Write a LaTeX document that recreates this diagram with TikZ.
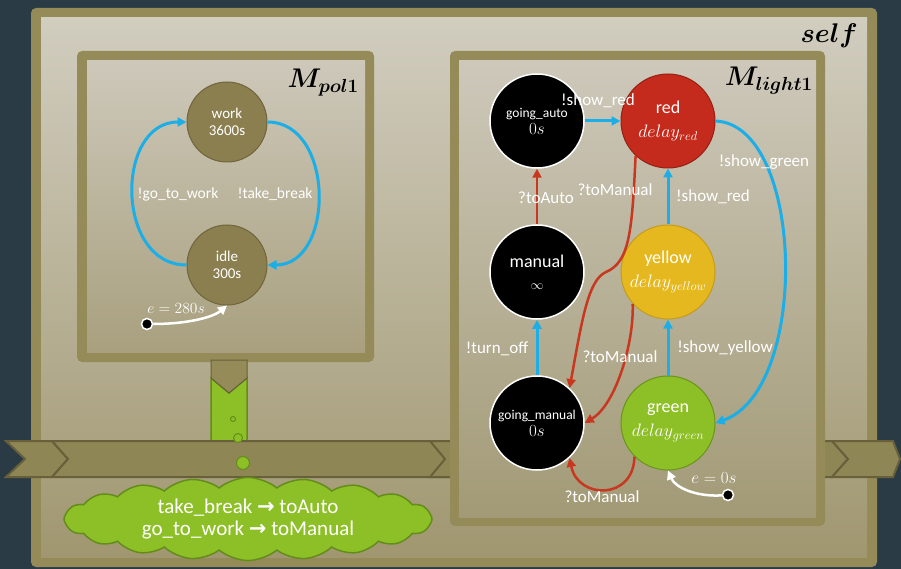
\RequirePackage{fix-cm}
\documentclass[tikz,border=0pt]{standalone}
\usepackage{bm}
\usepackage{fontspec}
\setmainfont{Carlito}
\newfontfamily\arrowfont{DejaVu Sans}
\usetikzlibrary{arrows.meta,shapes.symbols}
\definecolor{bgdark}{RGB}{43,59,70}
\definecolor{olivebd}{RGB}{149,139,88}
\definecolor{selftop}{RGB}{209,205,191}
\definecolor{selfbot}{RGB}{160,151,112}
\definecolor{boxtop}{RGB}{205,200,186}
\definecolor{polbot}{RGB}{168,160,126}
\definecolor{lightbot}{RGB}{162,154,118}
\definecolor{polfill}{RGB}{139,127,80}
\definecolor{polbd}{RGB}{112,101,60}
\definecolor{redlamp}{RGB}{196,43,28}
\definecolor{redlampbd}{RGB}{150,32,20}
\definecolor{yellowlamp}{RGB}{230,184,32}
\definecolor{yellowlampbd}{RGB}{196,156,24}
\definecolor{greenlamp}{RGB}{141,191,38}
\definecolor{greenlampbd}{RGB}{106,148,28}
\definecolor{arblue}{RGB}{28,174,230}
\definecolor{arred}{RGB}{200,56,32}
\definecolor{stripfill}{RGB}{143,134,86}
\definecolor{stripbd}{RGB}{104,96,58}
\definecolor{pipegreen}{RGB}{141,192,38}
\definecolor{pipebd}{RGB}{100,140,26}
\begin{document}
\begin{tikzpicture}[x=1pt,y=-1pt,>={Triangle[length=9pt,width=9pt]},
  stpol/.style={circle,minimum size=80pt,inner sep=0pt,fill=polfill,draw=polbd,line width=1pt,
    align=center,text=white,font=\fontsize{15}{17}\selectfont},
  stblack/.style={circle,minimum size=94pt,inner sep=0pt,fill=black,draw=white,line width=1.5pt,
    align=center,text=white,font=\fontsize{13.5}{17}\selectfont},
  stlamp/.style={circle,minimum size=94pt,inner sep=0pt,line width=1pt,align=center,text=white,
    font=\fontsize{18}{24}\selectfont},
  title/.style={anchor=base east,inner sep=0pt,text=black,font=\fontsize{27}{30}\selectfont},
  sig/.style={->,line width=3pt,arblue},
  ctl/.style={->,line width=2.5pt,arred},
  init/.style={->,line width=2.5pt,white},
  initdot/.style={circle,fill=black,draw=white,line width=1.5pt,minimum size=11pt,inner sep=0pt},
  lbl/.style={inner sep=1pt,text=white,font=\fontsize{17}{20}\selectfont},
  lblpol/.style={inner sep=1pt,text=white,font=\fontsize{15.5}{18}\selectfont}]
\useasboundingbox (0,0) rectangle (901,569);
\fill[bgdark] (0,0) rectangle (901,569);
\fill[olivebd,rounded corners=5pt] (31,8) rectangle (877,567);
\shade[top color=selftop,bottom color=selfbot] (41,18) rectangle (867,557);
\fill[olivebd,rounded corners=5pt] (77,51) rectangle (374,362);
\shade[top color=boxtop,bottom color=polbot] (87,61) rectangle (365,352);
\filldraw[fill=pipegreen,draw=pipebd,line width=1.5pt] (211,378)--(229,393)--(247,378)--(247,441)--(211,441)--cycle;
\filldraw[fill=olivebd,draw=stripbd,line width=1pt] (211,360)--(247,360)--(247,378)--(229,393)--(211,378)--cycle;
\filldraw[fill=stripfill,draw=stripbd,line width=2pt] (6,441)--(52,441)--(68,459)--(52,477)--(6,477)--(25,459)--cycle;
\filldraw[fill=stripfill,draw=stripbd,line width=2pt] (52,441)--(452,441)--(452,477)--(52,477)--(68,459)--cycle;
\filldraw[fill=stripfill,draw=stripbd,line width=2pt] (430,441)--(832,441)--(848,459)--(832,477)--(430,477)--(445,459)--cycle;
\filldraw[fill=stripfill,draw=stripbd,line width=2pt] (832,441)--(893,441)--(900,459)--(893,477)--(832,477)--(848,459)--cycle;
\foreach \x/\y/\r in {233/419/2.5,238/438/4.5,243/463/6.5}{\filldraw[fill=pipegreen,draw=pipebd,line width=1pt] (\x,\y) circle (\r);}
\fill[olivebd,rounded corners=5pt] (450,51) rectangle (825,526);
\shade[top color=boxtop,bottom color=lightbot] (459,61) rectangle (816,517);
\node[cloud,cloud puffs=20,cloud puff arc=80,cloud ignores aspect,minimum width=368pt,minimum height=60pt,
  fill=pipegreen,draw=pipebd,line width=1.5pt,align=center,text=white,font=\fontsize{21}{22}\selectfont] (rules) at (248,519)
  {take\_break {\arrowfont\bfseries →} toAuto\\go\_to\_work {\arrowfont\bfseries →} toManual};
\node[title] (tself) at (858,43) {$\bm{self}$};
\node[title] (tpol) at (359,88) {$\bm{M_{pol1}}$};
\node[title] (tlight) at (813,86) {$\bm{M_{light1}}$};
\node[stpol] (work) at (227,122) {work\\3600s};
\node[stpol] (idle) at (227,265) {idle\\300s};
\draw[sig] (idle.west) .. controls (115,265) and (115,122) .. (work.west);
\draw[sig] (work.east) .. controls (335,122) and (335,265) .. (idle.east);
\node[lblpol] (lgo) at (178,194) {!go\_to\_work};
\node[lblpol] (ltake) at (275,194) {!take\_break};
\node[initdot] (ipol) at (147,324) {};
\draw[init] (ipol) .. controls (185,324) and (212,318) .. (idle.south);
\node[lblpol] (le280) at (176,309) {$e=280s$};
\node[stblack] (gauto) at (537,121) {going\_auto\\{\fontsize{17}{20}\selectfont$0s$}};
\node[stlamp,fill=redlamp,draw=redlampbd] (red) at (668,121) {red\\$delay_{red}$};
\node[stblack,font=\fontsize{18}{22}\selectfont] (manual) at (537,272) {manual\\{\fontsize{13}{16}\selectfont$\infty$}};
\node[stlamp,fill=yellowlamp,draw=yellowlampbd] (yellow) at (668,272) {yellow\\$delay_{yellow}$};
\node[stblack] (gmanual) at (537,423) {going\_manual\\{\fontsize{17}{20}\selectfont$0s$}};
\node[stlamp,fill=greenlamp,draw=greenlampbd] (green) at (668,423) {green\\$delay_{green}$};
\draw[sig] (gauto) -- (red);
\draw[ctl] (manual) -- (gauto);
\draw[sig] (gmanual) -- (manual);
\draw[sig] (yellow) -- (red);
\draw[sig] (green) -- (yellow);
\draw[sig] (red.east) .. controls (805,125) and (810,390) .. (green.east);
\draw[ctl] (red.227) .. controls (632,230) and (630,262) .. (606,272) .. controls (588,280) and (582,320) .. (gmanual.47);
\draw[ctl] (yellow.222) .. controls (634,345) and (615,405) .. (gmanual.east);
\draw[ctl] (green.225) .. controls (634,500) and (578,500) .. (gmanual.313);
\node[initdot] (ilight) at (728,495) {};
\draw[init] (ilight) .. controls (695,497) and (675,487) .. (green.south);
\node[lbl] (lsr1) at (598,101) {!show\_red};
\node[lbl] (lauto) at (546,198) {?toAuto};
\node[lbl] (lman1) at (615,190) {?toManual};
\node[lbl] (lsr2) at (713,197) {!show\_red};
\node[lbl] (lsg) at (764,162) {!show\_green};
\node[lbl] (loff) at (497,349) {!turn\_off};
\node[lbl] (lman2) at (620,357) {?toManual};
\node[lbl] (lsy) at (725,348) {!show\_yellow};
\node[lbl] (lman3) at (602,497) {?toManual};
\node[lbl] (le0) at (714,478) {$e=0s$};
\end{tikzpicture}
\end{document}
